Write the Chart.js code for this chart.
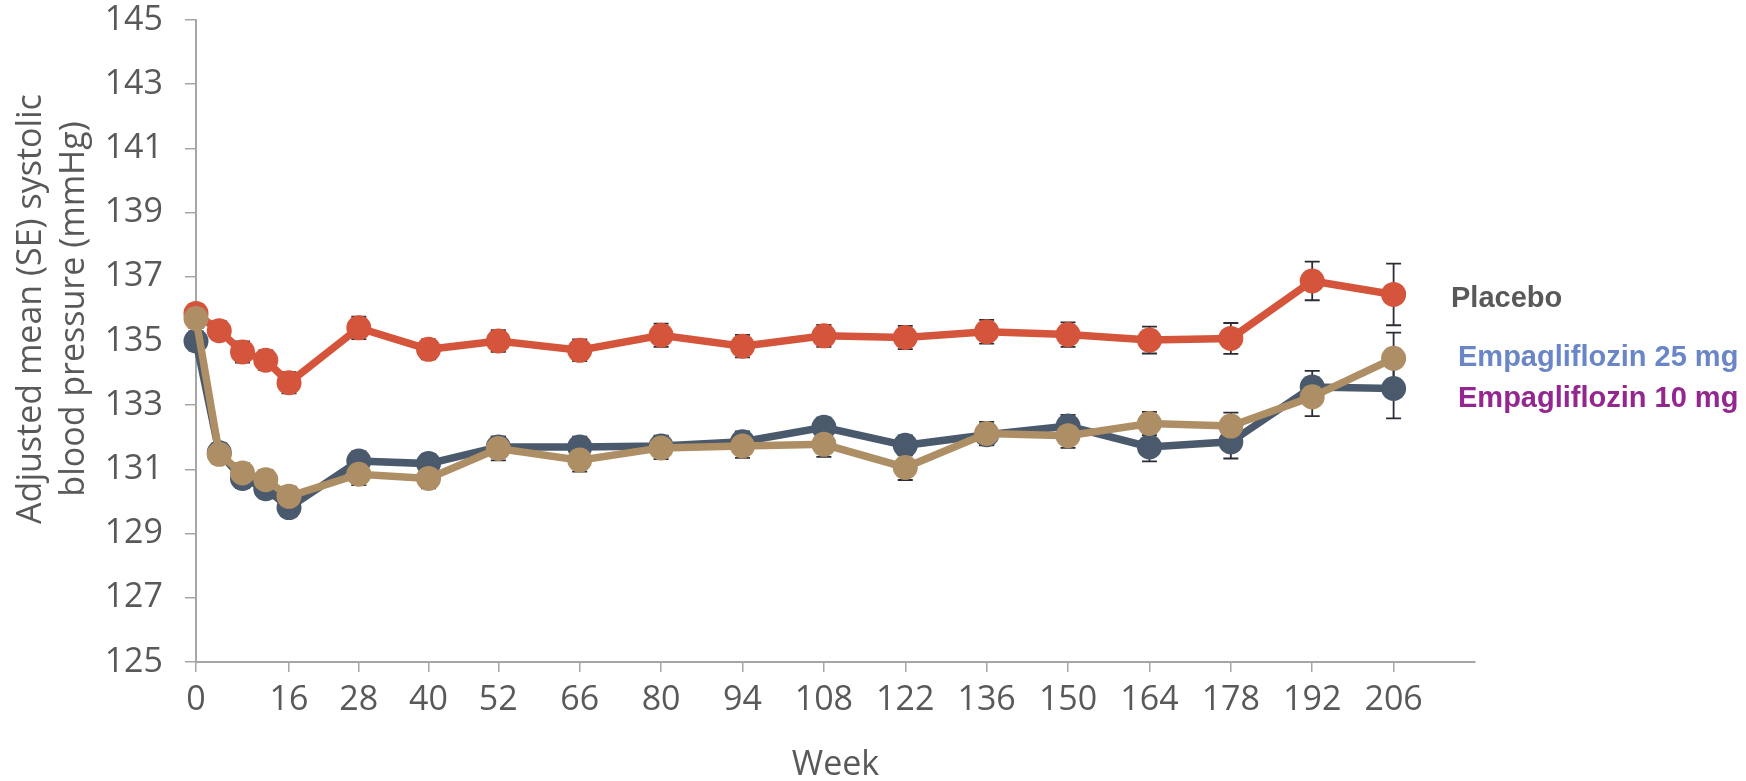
<!DOCTYPE html>
<html>
<head>
<meta charset="utf-8">
<title>Adjusted mean systolic blood pressure by week</title>
<script src="https://cdn.jsdelivr.net/npm/chart.js@4.4.1/dist/chart.umd.min.js"></script>
<style>
  html, body { margin: 0; padding: 0; background: #fff; }
</style>
</head>
<body>
<canvas id="bpChart" width="1746" height="781"></canvas>
<script>
"use strict";

// visit weeks and the weeks that get a tick label
const weeks = [0, 4, 8, 12, 16, 28, 40, 52, 66, 80, 94, 108, 122, 136, 150, 164, 178, 192, 206];
const weekTicks = [0, 16, 28, 40, 52, 66, 80, 94, 108, 122, 136, 150, 164, 178, 192, 206];

// adjusted mean SBP (mmHg) and its SE at each visit
const placebo = [135.86, 135.32, 134.66, 134.40, 133.70, 135.41, 134.74, 135.00, 134.71, 135.18, 134.84, 135.16, 135.11, 135.29, 135.20, 135.03, 135.08, 136.87, 136.45];
const placeboSE = [0.29, 0.29, 0.33, 0.31, 0.33, 0.35, 0.31, 0.34, 0.34, 0.36, 0.35, 0.34, 0.36, 0.37, 0.38, 0.42, 0.48, 0.60, 0.96];

const empa25 = [135.70, 131.47, 130.89, 130.68, 130.16, 130.85, 130.72, 131.65, 131.29, 131.67, 131.73, 131.78, 131.06, 132.12, 132.05, 132.43, 132.35, 133.26, 134.46];
const empa25SE = [0.30, 0.30, 0.30, 0.30, 0.30, 0.34, 0.31, 0.37, 0.36, 0.35, 0.37, 0.39, 0.39, 0.36, 0.38, 0.36, 0.42, 0.60, 0.80];

const empa10 = [135.00, 131.52, 130.72, 130.40, 129.81, 131.26, 131.18, 131.70, 131.70, 131.73, 131.86, 132.31, 131.75, 132.08, 132.35, 131.70, 131.86, 133.57, 133.52];
const empa10SE = [0.30, 0.30, 0.30, 0.30, 0.29, 0.30, 0.30, 0.32, 0.32, 0.32, 0.32, 0.30, 0.31, 0.33, 0.35, 0.45, 0.52, 0.50, 0.93];

const seriesNames = ['Placebo', 'Empagliflozin 25 mg', 'Empagliflozin 10 mg'];
const nameColors = ['#595959', '#6a86c6', '#93278f'];

const textGrey = '#595959';
const axisGrey = '#a6a6a6';
const tickFont = { family: '"Open Sans", sans-serif', size: 34 };

function toPoints(values) {
  return weeks.map((w, i) => ({ x: w, y: values[i] }));
}

function lineSet(label, values, se, color) {
  return {
    label: label,
    data: toPoints(values),
    se: se,
    borderColor: color,
    backgroundColor: color,
    pointBackgroundColor: color,
    pointBorderWidth: 0,
    pointRadius: 12.5,
    pointHoverRadius: 12.5,
    borderWidth: 7.5,
    tension: 0,
    clip: false
  };
}

// SE whiskers, drawn under the lines
const errorBars = {
  id: 'errorBars',
  beforeDatasetsDraw(chart) {
    const ctx = chart.ctx;
    const x = chart.scales.x;
    const y = chart.scales.y;
    ctx.save();
    ctx.strokeStyle = '#2b2d36';
    ctx.lineWidth = 1.8;
    chart.data.datasets.forEach(ds => {
      ds.data.forEach((p, i) => {
        const px = x.getPixelForValue(p.x);
        const top = y.getPixelForValue(p.y + ds.se[i]);
        const bot = y.getPixelForValue(p.y - ds.se[i]);
        ctx.beginPath();
        ctx.moveTo(px, top);
        ctx.lineTo(px, bot);
        ctx.moveTo(px - 7.5, top);
        ctx.lineTo(px + 7.5, top);
        ctx.moveTo(px - 7.5, bot);
        ctx.lineTo(px + 7.5, bot);
        ctx.stroke();
      });
    });
    ctx.restore();
  }
};

// two-line y title and the series names on the right
const sideText = {
  id: 'sideText',
  afterDraw(chart) {
    const ctx = chart.ctx;
    const area = chart.chartArea;
    ctx.save();
    ctx.fillStyle = textGrey;
    ctx.font = '34px "Open Sans", sans-serif';
    ctx.textAlign = 'center';
    ctx.textBaseline = 'alphabetic';
    const yTitle = ['Adjusted mean (SE) systolic', 'blood pressure (mmHg)'];
    const midY = area.top + 289;
    [41, 84].forEach((bx, i) => {
      ctx.save();
      ctx.translate(bx, midY);
      ctx.rotate(-Math.PI / 2);
      ctx.fillText(yTitle[i], 0, 0);
      ctx.restore();
    });

    ctx.font = 'bold 29px "Liberation Sans", Arial, sans-serif';
    ctx.textAlign = 'left';
    const spots = [[-24, 287], [-17, 346], [-17, 387]];
    seriesNames.forEach((name, i) => {
      ctx.fillStyle = nameColors[i];
      ctx.fillText(name, area.right + spots[i][0], area.top + spots[i][1]);
    });
    ctx.restore();
  }
};

const ctx = document.getElementById('bpChart').getContext('2d');
const bpChart = new Chart(ctx, {
  type: 'line',
  data: {
    datasets: [
      lineSet(seriesNames[1], empa25, empa25SE, '#ae8e64'),
      lineSet(seriesNames[2], empa10, empa10SE, '#4a5a6c'),
      lineSet(seriesNames[0], placebo, placeboSE, '#d4553b')
    ]
  },
  options: {
    responsive: false,
    animation: false,
    layout: { padding: { top: 20, right: 271, left: 0, bottom: 0 } },
    plugins: {
      legend: { display: false },
      tooltip: { enabled: false }
    },
    scales: {
      x: {
        type: 'linear',
        min: 0,
        max: 220,
        afterBuildTicks(scale) {
          scale.ticks = weekTicks.map(v => ({ value: v }));
        },
        afterFit(scale) {
          scale.height = 119;
        },
        ticks: { color: textGrey, font: tickFont, padding: 8, maxRotation: 0, autoSkip: false },
        grid: { drawOnChartArea: false, tickLength: 10, color: axisGrey, lineWidth: 1.5 },
        border: { color: axisGrey, width: 2 },
        title: {
          display: true,
          text: 'Week',
          color: textGrey,
          font: { family: '"Open Sans", sans-serif', size: 34, lineHeight: 0.9 },
          padding: { top: 0, bottom: 0 }
        }
      },
      y: {
        min: 125,
        max: 145,
        afterFit(scale) {
          // fixed axis width; top/bottom space comes from layout padding
          scale.width = 196;
          scale.paddingTop = 0;
          scale.paddingBottom = 0;
        },
        ticks: { stepSize: 2, color: textGrey, font: { family: '"Open Sans", sans-serif', size: 34, lineHeight: 1 }, padding: 22 },
        grid: { drawOnChartArea: false, tickLength: 11, color: axisGrey, lineWidth: 1.5 },
        border: { color: axisGrey, width: 2 }
      }
    }
  },
  plugins: [errorBars, sideText]
});
</script>
</body>
</html>
